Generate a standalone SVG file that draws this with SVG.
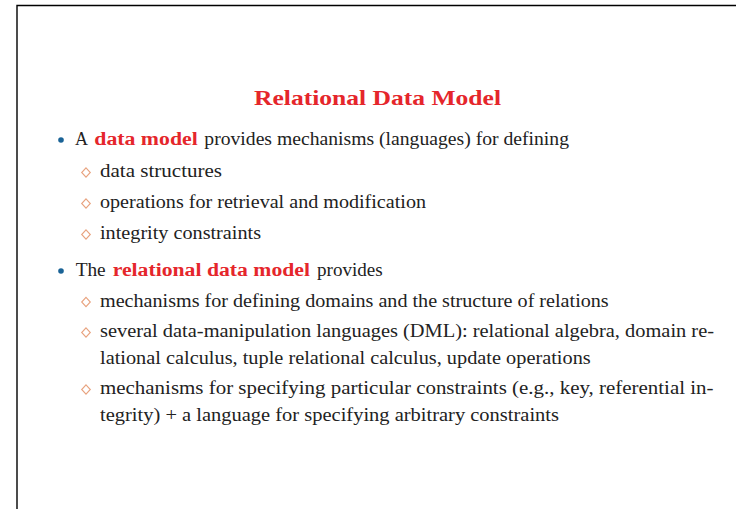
<svg xmlns="http://www.w3.org/2000/svg" width="736" height="509" viewBox="0 0 736 509">
<defs>
<style>
.t{font-family:"Liberation Serif","DejaVu Serif",serif;font-size:18px;fill:#222;}
.r{fill:#e5262b;font-weight:bold;}
.ttl{font-family:"Liberation Serif","DejaVu Serif",serif;font-size:21.5px;font-weight:bold;fill:#e5262b;}
.dot{fill:#1a6396;}
.dia{fill:none;stroke:#e8a27e;stroke-width:1.1;}
</style>
<path id="d" class="dia" d="M0,-4.6 L4.3,0 L0,4.6 L-4.3,0 Z"/>
</defs>
<rect width="736" height="509" fill="#fff"/>
<path d="M17,509 V5.5 H736" fill="none" stroke="#000" stroke-width="1.4"/>
<g id="title">
<text class="ttl" x="254" y="104.5" textLength="247" lengthAdjust="spacingAndGlyphs">Relational Data Model</text>
</g>
<g id="item1">
<circle class="dot" cx="61" cy="140" r="2.8"/>
<text class="t" x="75" y="145" textLength="13" lengthAdjust="spacingAndGlyphs">A</text>
<text class="t r" x="94.3" y="145" textLength="103.4" lengthAdjust="spacingAndGlyphs">data model</text>
<text class="t" x="204.3" y="145" textLength="364.7" lengthAdjust="spacingAndGlyphs">provides mechanisms (languages) for defining</text>
<use href="#d" x="86" y="172.5"/>
<text class="t" x="100" y="177" textLength="122" lengthAdjust="spacingAndGlyphs">data structures</text>
<use href="#d" x="86" y="203.5"/>
<text class="t" x="100" y="208" textLength="326" lengthAdjust="spacingAndGlyphs">operations for retrieval and modification</text>
<use href="#d" x="86" y="234.5"/>
<text class="t" x="100" y="239" textLength="161" lengthAdjust="spacingAndGlyphs">integrity constraints</text>
</g>
<g id="item2">
<circle class="dot" cx="61" cy="271" r="2.8"/>
<text class="t" x="75.7" y="276" textLength="30" lengthAdjust="spacingAndGlyphs">The</text>
<text class="t r" x="112.7" y="276" textLength="197.3" lengthAdjust="spacingAndGlyphs">relational data model</text>
<text class="t" x="317" y="276" textLength="65.7" lengthAdjust="spacingAndGlyphs">provides</text>
<use href="#d" x="86" y="302"/>
<text class="t" x="100" y="306.5" textLength="508.7" lengthAdjust="spacingAndGlyphs">mechanisms for defining domains and the structure of relations</text>
<use href="#d" x="86" y="332.5"/>
<text class="t" x="100" y="337" textLength="614" lengthAdjust="spacingAndGlyphs">several data-manipulation languages (DML): relational algebra, domain re-</text>
<text class="t" x="100" y="364" textLength="490.7" lengthAdjust="spacingAndGlyphs">lational calculus, tuple relational calculus, update operations</text>
<use href="#d" x="86" y="389.5"/>
<text class="t" x="100" y="394" textLength="613.5" lengthAdjust="spacingAndGlyphs">mechanisms for specifying particular constraints (e.g., key, referential in-</text>
<text class="t" x="100" y="421" textLength="459" lengthAdjust="spacingAndGlyphs">tegrity) + a language for specifying arbitrary constraints</text>
</g>
</svg>
